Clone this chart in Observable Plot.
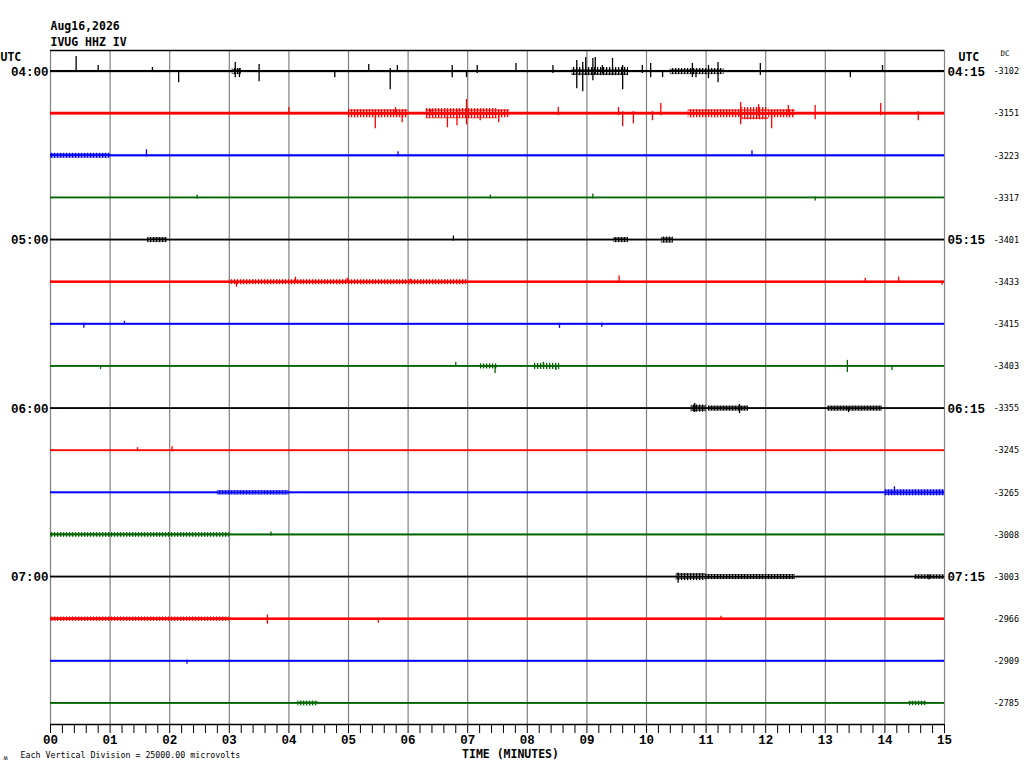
<!DOCTYPE html>
<html>
<head>
<meta charset="utf-8">
<script src="https://cdn.jsdelivr.net/npm/d3@7"></script>
<script src="https://cdn.jsdelivr.net/npm/@observablehq/plot@0.6"></script>
<style>
  html, body { margin: 0; padding: 0; background: #fff; }
  #chart svg { display: block; }
</style>
</head>
<body>
<div id="chart"></div>
<script>
// ---- data read from the helicorder ----
const titleDate = "Aug16,2026";
const stationName = "IVUG HHZ IV";
const scaleNote = "Each Vertical Division = 25000.00 microvolts";
const divisionMilliVolts = 25; // one trace spacing

const traceColors = ["#000000", "#ff0000", "#0000ff", "#006400"];
const dcValues = [-3102, -3151, -3223, -3317, -3401, -3433, -3415, -3403,
                  -3355, -3245, -3265, -3008, -3003, -2966, -2909, -2785];
const hourRowIndex = [0, 4, 8, 12];
const leftHourLabels = ["04:00", "05:00", "06:00", "07:00"];
const rightHourLabels = ["04:15", "05:15", "06:15", "07:15"];

const minuteTicks = [0,1,2,3,4,5,6,7,8,9,10,11,12,13,14,15];
const minuteLabels = ["00","01","02","03","04","05","06","07","08","09","10","11","12","13","14","15"];

// background noise half-amplitude per trace (mV)
const baseNoise = [0.65, 0.85, 0.65, 0.55, 0.55, 0.75, 0.6, 0.55, 0.55, 0.55, 0.6, 0.6, 0.55, 0.75, 0.6, 0.55];

// busier stretches: [trace, startMin, endMin, half-amplitude mV]
const bursts = [
  [0,3.05,3.2,1.8],[0,8.75,9.7,2.4],[0,10.4,11.3,1.8],
  [1,5.0,6.0,2.4],[1,6.3,7.5,3.0],[1,7.5,7.7,2.4],[1,10.7,11.6,2.4],[1,11.6,12.05,3.6],[1,12.05,12.5,2.4],
  [2,0,1.0,1.5],
  [4,1.63,1.96,1.5],[4,9.45,9.7,1.5],[4,10.25,10.45,1.8],
  [5,3.0,7.0,1.5],
  [7,7.2,7.5,1.5],[7,8.1,8.55,1.8],
  [8,10.75,11.0,2.1],[8,11.04,11.71,1.5],[8,13.04,13.96,1.5],
  [10,2.8,4.0,1.3],[10,14.0,15.0,1.8],
  [11,0,3.0,1.4],
  [12,10.5,11.0,2.1],[12,11.0,12.5,1.5],[12,14.5,15,1.3],
  [13,0,3.0,1.3],
  [15,4.15,4.5,1.4],[15,14.4,14.7,1.3]
];

// individual spikes: [trace, minute, up mV, down mV]
const spikes = [
  [0,0.43,9.0,0.6],[0,0.80,3.6,0.6],[0,1.71,2.4,0.6],[0,2.15,0.6,6.6],[0,3.10,5.4,3.6],
  [0,3.17,1.8,3.6],[0,3.50,4.2,6.0],[0,4.77,0.6,3.6],[0,5.34,4.2,0.6],[0,5.70,1.8,10.8],
  [0,5.82,3.6,0.6],[0,6.74,3.6,3.6],[0,6.98,0.6,3.6],[0,7.16,3.6,1.2],[0,7.81,4.8,0.6],
  [0,8.43,3.6,1.2],[0,8.83,6.6,10.2],[0,8.93,5.4,12.0],[0,8.98,8.4,1.8],[0,9.10,7.8,5.4],
  [0,9.14,8.4,1.8],[0,9.26,3.6,1.2],[0,9.43,7.8,2.4],[0,9.60,3.6,10.8],[0,9.93,3.6,1.2],
  [0,10.07,4.8,3.6],[0,10.27,0.6,3.6],[0,10.77,4.8,3.6],[0,10.83,0.6,3.6],[0,11.04,3.6,4.2],
  [0,11.20,5.4,6.6],[0,11.91,4.8,2.4],[0,13.42,0.6,3.6],[0,13.96,3.6,0.6],
  [1,4.00,3.6,0.6],[1,5.45,1.8,9.0],[1,5.79,3.6,1.2],[1,5.90,1.2,5.4],[1,6.38,2.4,1.2],
  [1,6.66,1.8,8.4],[1,6.82,1.8,7.2],[1,6.98,8.4,6.6],[1,7.21,1.2,4.2],[1,7.52,1.2,5.4],
  [1,8.52,3.6,1.2],[1,9.53,3.6,1.2],[1,9.60,1.2,7.8],[1,9.78,1.2,6.0],[1,10.10,1.2,4.2],
  [1,10.24,6.0,1.2],[1,11.58,6.6,6.6],[1,11.88,5.4,1.8],[1,12.10,1.8,9.0],[1,12.38,4.8,1.2],
  [1,12.83,4.8,3.6],[1,13.93,6.0,1.2],[1,14.56,1.2,4.2],
  [2,1.61,3.6,0.6],[2,5.83,2.4,0.6],[2,11.77,3.0,0.6],
  [3,2.46,1.8,0.6],[3,7.38,1.8,0.6],[3,9.10,2.4,0.6],[3,12.83,0.6,1.8],
  [4,6.76,2.4,0.6],
  [5,3.12,0.6,3.0],[5,4.11,3.0,0.6],[5,4.98,2.4,0.6],[5,6.04,1.8,0.6],[5,9.54,3.6,0.6],
  [5,13.67,2.4,0.6],[5,14.23,3.0,0.6],[5,14.96,0.6,1.8],
  [6,0.56,0.6,2.4],[6,1.24,1.8,0.6],[6,8.54,0.6,2.4],[6,9.25,0.6,1.8],
  [7,0.84,0.6,1.8],[7,6.80,2.4,0.6],[7,7.46,0.6,4.2],[7,8.27,2.4,0.6],[7,8.48,0.6,2.4],
  [7,13.37,3.6,3.6],[7,14.12,0.6,2.4],
  [8,10.81,3.0,2.4],[8,11.56,2.4,3.0],[8,13.39,0.6,2.4],
  [9,1.46,1.8,0.6],[9,2.04,2.4,0.6],
  [10,14.16,3.6,0.6],
  [11,3.70,1.8,0.6],
  [12,10.53,2.4,3.6],[12,14.74,1.2,1.8],
  [13,3.64,2.4,3.0],[13,5.50,0.6,2.4],[13,11.25,1.8,0.6],
  [14,2.29,0.6,1.8]
];

// ---- derived tables ----
const rows = dcValues.map((dc, i) => ({i, dc, noise: baseNoise[i], color: traceColors[i % 4]}));
const hourRows = hourRowIndex.map((i, k) => ({i, left: leftHourLabels[k], right: rightHourLabels[k]}));
const burstRows = bursts.map(([t, s, e, a]) => ({t, s, e, a, hatch: `url(#hatch${t % 4})`}));
const spikeRows = spikes.map(([t, m, up, dn]) => ({t, m, up, dn, color: traceColors[t % 4]}));
const minorTicks = d3.range(0, 15.0001, 0.2).map(v => Math.round(v * 10) / 10);
const yDomain = [-0.5, dcValues.length - 0.5];
const toDiv = mv => mv / divisionMilliVolts;

const mono = "'DejaVu Sans Mono', 'Liberation Mono', monospace";
const monoSerif = "'Liberation Mono', 'DejaVu Sans Mono', monospace";
const txt = (opts) => ({lineAnchor: "middle", fontFamily: mono, ...opts});

const chart = Plot.plot({
  width: 1024,
  height: 768,
  marginLeft: 50,
  marginRight: 80,
  marginTop: 50,
  marginBottom: 44,
  style: {background: "#fff", overflow: "visible"},
  x: {domain: [0, 15], axis: null},
  y: {domain: yDomain, reverse: true, axis: null},
  color: {type: "identity"},
  marks: [
    // minute grid
    Plot.ruleX(minuteTicks, {stroke: "#808080", strokeWidth: 1.2}),
    // top border and bottom axis line
    Plot.ruleY([yDomain[0]], {stroke: "#000", strokeWidth: 1.6}),
    Plot.ruleY([yDomain[1]], {stroke: "#000", strokeWidth: 1.6}),
    // background noise band of each trace
    Plot.rect(rows, {y1: d => d.i - toDiv(d.noise), y2: d => d.i + toDiv(d.noise), fill: "color"}),
    // busy stretches (dense wiggle, drawn with a stripe pattern)
    Plot.rect(burstRows, {x1: "s", x2: "e", y1: d => d.t - toDiv(d.a), y2: d => d.t + toDiv(d.a), fill: "hatch"}),
    // spikes
    Plot.ruleX(spikeRows, {x: "m", y1: d => d.t - toDiv(d.up), y2: d => d.t + toDiv(d.dn), stroke: "color", strokeWidth: 1.3}),
    // bottom ticks
    Plot.axisX({ticks: minorTicks, tickSize: 9, tickFormat: () => "", strokeWidth: 1, label: null}),
    Plot.axisX({ticks: minuteTicks, tickSize: 0, tickPadding: 11, tickFormat: d => minuteLabels[d],
      fontSize: 12.5, fontWeight: "bold", fontFamily: monoSerif, fill: "#000", label: null}),
    // hour labels
    Plot.text(hourRows, txt({y: "i", frameAnchor: "left", text: "left", dx: -2, textAnchor: "end",
      fontSize: 12.5, fontWeight: "bold", fontFamily: monoSerif})),
    Plot.text(hourRows, txt({y: "i", frameAnchor: "right", text: "right", dx: 3, textAnchor: "start",
      fontSize: 12.5, fontWeight: "bold", fontFamily: monoSerif})),
    Plot.text(rows, txt({y: "i", frameAnchor: "right", text: d => String(d.dc), dx: 49, textAnchor: "start",
      fontSize: 8.5})),
    // headers
    Plot.text([titleDate], txt({frameAnchor: "top-left", dx: 0, dy: -24, textAnchor: "start",
      fontSize: 11.5, fontWeight: "bold"})),
    Plot.text([stationName], txt({frameAnchor: "top-left", dx: 0, dy: -8, textAnchor: "start",
      fontSize: 11.5, fontWeight: "bold"})),
    Plot.text(["UTC"], txt({frameAnchor: "top-left", dx: -50, dy: 6.5, textAnchor: "start",
      fontSize: 11.5, fontWeight: "bold"})),
    Plot.text(["UTC"], txt({frameAnchor: "top-right", dx: 14, dy: 6.5, textAnchor: "start",
      fontSize: 11.5, fontWeight: "bold"})),
    Plot.text(["DC"], txt({frameAnchor: "top-right", dx: 56, dy: 3.5, textAnchor: "start",
      fontSize: 7.5})),
    // footer
    Plot.text(["TIME (MINUTES)"], txt({frameAnchor: "bottom", dx: 13, dy: 30, textAnchor: "middle",
      fontSize: 11.5, fontWeight: "bold"})),
    Plot.text([scaleNote], txt({frameAnchor: "bottom-left", dx: -30, dy: 30.5, textAnchor: "start",
      fontSize: 8.3})),
    Plot.text(["ʍ"], txt({frameAnchor: "bottom-left", dx: -47, dy: 33, textAnchor: "start",
      fontSize: 7}))
  ]
});

// stripe patterns that give the busy stretches a dense, jagged look
const defs = d3.select(chart).insert("defs", ":first-child");
traceColors.forEach((c, k) => {
  const p = defs.append("pattern")
    .attr("id", `hatch${k}`)
    .attr("patternUnits", "userSpaceOnUse")
    .attr("width", 3).attr("height", 4);
  p.append("rect").attr("x", 0).attr("y", 0).attr("width", 1.3).attr("height", 4).attr("fill", c);
  p.append("rect").attr("x", 1.3).attr("y", 1.5).attr("width", 1.7).attr("height", 1.2).attr("fill", c);
});

document.getElementById("chart").appendChild(chart);
</script>
</body>
</html>
